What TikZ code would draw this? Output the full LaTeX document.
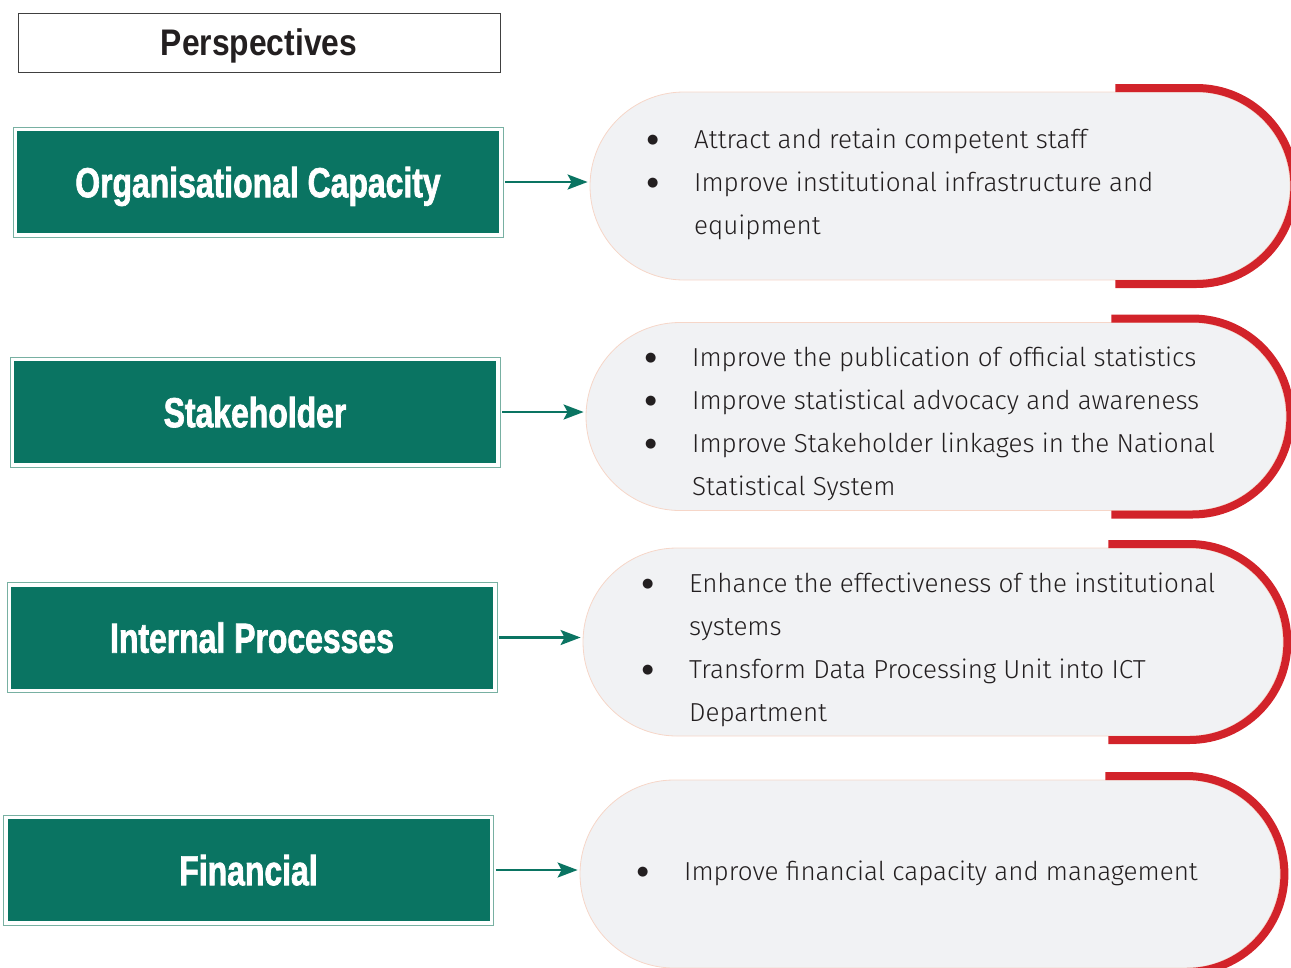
\documentclass[tikz,border=0pt]{standalone}
\usepackage{fontspec}
\usepackage{xcolor}
\usepackage{tikz}
\usetikzlibrary{positioning,arrows.meta,shapes.misc}

\newfontfamily\perspfont{Liberation Sans}[FakeStretch=0.86]
\newfontfamily\boxfont{Liberation Sans}[FakeStretch=0.76,FakeBold=1.6]
\newfontfamily\itemfont{Fira Sans}[UprightFont=* Light]
\newfontfamily\dotfont{DejaVu Sans}

\definecolor{persgreen}{RGB}{10,116,98}
\definecolor{framegreen}{RGB}{120,176,162}
\definecolor{capfill}{RGB}{241,242,244}
\definecolor{capline}{RGB}{246,214,200}
\definecolor{rimred}{RGB}{210,35,42}
\definecolor{inktext}{RGB}{35,31,32}

% bullet line and continuation line
\newcommand{\itm}{\strut\makebox[47pt][l]{{\dotfont\fontsize{13}{13}\selectfont\raisebox{4.5pt}{●}}}}
\newcommand{\cnt}{\strut\hspace*{47pt}}
% red rim round the right end of a capsule
\newcommand{\rim}[2]{\draw[redrim] ([xshift=-94pt]#1.east) ++(-#2,-98) -- ++(#2,0)
  arc[start angle=90, end angle=-90, radius=98pt] -- ++(-#2,0);}

\begin{document}
\begin{tikzpicture}[
  x=1pt, y=-1pt,
  headbox/.style={draw=black!75, line width=0.9pt, minimum width=482pt, minimum height=59pt,
    text depth=0pt, text=inktext, font=\perspfont\bfseries\fontsize{37}{40}\selectfont},
  persp/.style={draw=framegreen, line width=0.8pt, minimum width=490pt, minimum height=110pt,
    text depth=0pt, text=white, font=\boxfont\bfseries\fontsize{42}{46}\selectfont,
    path picture={\fill[persgreen] ([shift={(4pt,4pt)}]path picture bounding box.south west)
      rectangle ([shift={(-4pt,-4pt)}]path picture bounding box.north east);}},
  capsule/.style={rounded rectangle, draw=capline, line width=0.8pt, fill=capfill,
    minimum width=700pt, minimum height=188pt, inner sep=0pt},
  bullets/.style={anchor=west, align=left, inner sep=0pt, text=inktext,
    font=\itemfont\fontsize{26}{43}\selectfont},
  link/.style={draw=persgreen, line width=2.4pt, shorten <=2pt, shorten >=2pt,
    -{Stealth[length=20pt, width=15pt, inset=4pt]}},
  redrim/.style={draw=rimred, line width=8pt},
]
\useasboundingbox (0,0) rectangle (1291,967);

% Heading
\node[headbox] (head) at (259,42.5) {Perspectives};

% Perspective boxes
\node[persp] (g1) at (258,182) {Organisational Capacity};
\node[persp] (g2) at (255,412) {Stakeholder};
\node[persp] (g3) at (252,637.5) {Internal Processes};
\node[persp] (g4) at (248.5,870) {Financial};

% Objective capsules
\node[capsule] (c1) at (940,186) {};
\node[capsule] (c2) at (936,416.5) {};
\node[capsule] (c3) at (933,642) {};
\node[capsule] (c4) at (930,874) {};

\rim{c1}{81}
\rim{c2}{81}
\rim{c3}{81}
\rim{c4}{81}

% Objectives
\node[bullets] (t1) at (647,182.4) {\itm Attract and retain competent staff\\
  \itm Improve institutional infrastructure and\\
  \cnt equipment};
\node[bullets] (t2) at (645,421.9) {\itm Improve the publication of official statistics\\
  \itm Improve statistical advocacy and awareness\\
  \itm Improve Stakeholder linkages in the National\\
  \cnt Statistical System};
\node[bullets] (t3) at (642,647.9) {\itm Enhance the effectiveness of the institutional\\
  \cnt systems\\
  \itm Transform Data Processing Unit into ICT\\
  \cnt Department};
\node[bullets] (t4) at (637,871.4) {\itm Improve financial capacity and management};

% Arrows
\draw[link] (g1.east) -- (g1.east -| c1.west);
\draw[link] (g2.east) -- (g2.east -| c2.west);
\draw[link] (g3.east) -- (g3.east -| c3.west);
\draw[link] (g4.east) -- (g4.east -| c4.west);

\end{tikzpicture}
\end{document}
